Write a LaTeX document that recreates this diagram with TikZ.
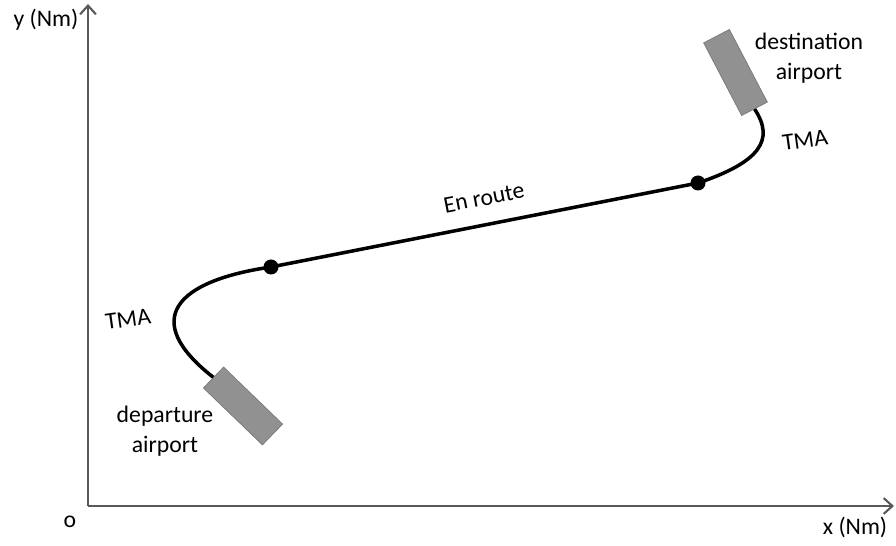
\documentclass[tikz,border=0pt]{standalone}
\usepackage{fontspec}
\setmainfont{Carlito}
\usetikzlibrary{arrows.meta}
\definecolor{axisgray}{RGB}{89,89,89}
\definecolor{rwfill}{RGB}{145,145,145}
\definecolor{rwedge}{RGB}{120,120,120}
\tikzset{
    axis/.style={draw=axisgray, line width=1.2pt, -{Straight Barb[length=5pt,width=9pt]}},
    airport/.style={draw=rwedge, fill=rwfill, minimum width=1.64cm, minimum height=0.58cm, inner sep=0pt},
    track/.style={line width=2pt, black},
    fix/.style={circle, fill=black, minimum size=0.3cm, inner sep=0pt},
    lbl/.style={font=\fontsize{13.5}{17}\selectfont, align=center}
}
\begin{document}
\begin{tikzpicture}[x=0.02cm, y=-0.02cm]
            \useasboundingbox (0, 0) rectangle (896, 546);
            %\draw[lightgray] (0, 0) grid[step=50] (896, 546);
            \coordinate (O) at (88, 506);
            \coordinate (ytop) at (88, 4);
            \coordinate (xend) at (894, 506);
            \draw[axis] (O) -- (ytop);
            \draw[axis] (O) -- (xend);
            \node[lbl] (ylab) at (46, 20) {y (Nm)};
            \node[lbl] (xlab) at (855, 527) {x (Nm)};
            \node[lbl] (orig) at (70, 522) {o};

            \node[airport, rotate=-44] (dep) at (243, 406) {};
            \node[airport, rotate=-62.4] (dest) at (735.5, 72.5) {};
            \node[fix] (entry) at (271, 267) {};
            \node[fix] (exit) at (698, 183) {};

            \draw[track] (dep.west) .. controls (140, 320) and (175, 281) .. (entry.center);
            \draw[track] (entry.center) -- (exit.center);
            \draw[track] (exit.center) .. controls (760, 162) and (775, 140) .. (dest.east);

            \node[lbl, rotate=8] (tmadep) at (128, 319) {TMA};
            \node[lbl, rotate=8] (tmadest) at (805, 140) {TMA};
            \node[lbl, rotate=11] (enroute) at (484, 198) {En route};
            \node[lbl] (deplab) at (165, 431) {departure\\airport};
            \node[lbl] (destlab) at (809, 58) {destination\\airport};
\end{tikzpicture}
\end{document}
